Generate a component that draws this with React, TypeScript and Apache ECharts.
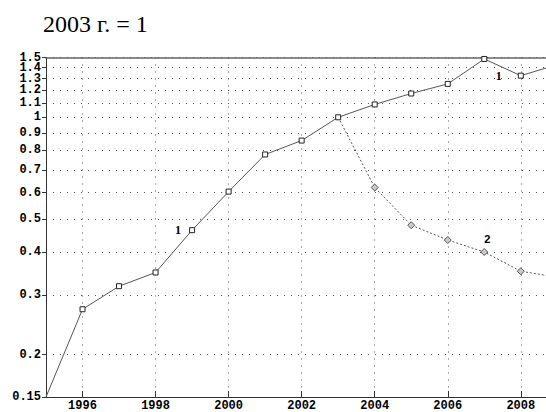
import React, { useEffect, useRef } from "react";
import * as echarts from "echarts";

const years = [1995, 1996, 1997, 1998, 1999, 2000, 2001, 2002, 2003, 2004, 2005, 2006, 2007, 2008, 2009];
const series1 = [0.15, 0.272, 0.318, 0.349, 0.465, 0.604, 0.777, 0.854, 1.0, 1.091, 1.175, 1.254, 1.485, 1.326, 1.43];
const series2Years = [2003, 2004, 2005, 2006, 2007, 2008, 2009];
const series2 = [1.0, 0.621, 0.481, 0.435, 0.401, 0.352, 0.338];
const yTicks = [0.15, 0.2, 0.3, 0.4, 0.5, 0.6, 0.7, 0.8, 0.9, 1, 1.1, 1.2, 1.3, 1.4, 1.5];
const yLabelsA = [0.15, 0.2, 0.3, 0.4, 0.5, 0.6, 0.7, 0.8, 0.9, 1, 1.2, 1.4];
const yLabelsB = [1.1, 1.3, 1.5];
const xTicks = [1996, 1998, 2000, 2002, 2004, 2006, 2008];
const titleText = "2003 г. = 1";

const labelFont = "Liberation Mono";

export default function App() {
  const ref = useRef<HTMLDivElement>(null);
  useEffect(() => {
    document.body.style.margin = "0";
    const chart = echarts.init(ref.current!, null, { renderer: "svg" });
    const lbl1 = (distance: number) => ({
      show: true,
      position: "left",
      distance,
      formatter: "1",
      fontFamily: "Liberation Serif",
      fontWeight: "bold",
      fontSize: 12,
      color: "#000",
    });
    const s1Data = years.map((y, i) => {
      const item: any = { value: [y, series1[i]] };
      if (i === 0) item.symbol = "none";
      if (y === 1999) item.label = lbl1(8);
      if (y === 2008) item.label = lbl1(16);
      return item;
    });
    const s2Data = series2Years.map((y, i) => {
      const item: any = { value: [y, series2[i]] };
      if (i === 0) item.symbol = "none";
      if (y === 2007)
        item.label = {
          show: true,
          position: "top",
          distance: 4,
          offset: [3, 0],
          formatter: "2",
          fontFamily: "Liberation Sans",
          fontWeight: "bold",
          fontSize: 11,
          color: "#000",
        };
      return item;
    });
    const dotted = { color: "#555", width: 1, type: [1, 6] as any };
    const yLabelStyle = {
      margin: 5,
      lineHeight: 9,
      showMaxLabel: true,
      showMinLabel: true,
      formatter: (v: number) => String(Number(v.toFixed(2))),
      fontFamily: labelFont,
      fontWeight: "bold",
      fontSize: 12,
      color: "#000",
    };
    chart.setOption({
      animation: false,
      backgroundColor: "#fff",
      title: {
        text: titleText,
        left: 38,
        top: 7,
        textStyle: { fontFamily: "Liberation Serif", fontSize: 24, fontWeight: "normal", color: "#000" },
      },
      grid: { left: 46, right: 0, top: 57.5, bottom: 10.5, containLabel: false },
      xAxis: [
        {
          type: "value",
          min: 1995,
          max: 2008.69,
          axisLine: { show: true, onZero: false, lineStyle: { color: "#333", width: 1 } },
          axisTick: { show: true, inside: true, length: 6, customValues: xTicks, lineStyle: { color: "#333" } },
          axisLabel: {
            customValues: xTicks,
            margin: 3,
            formatter: (v: number) => String(v),
            fontFamily: labelFont,
            fontWeight: "bold",
            fontSize: 12,
            color: "#000",
          },
          splitLine: { show: true, lineStyle: dotted },
        },
        {
          type: "value",
          position: "top",
          min: 1995,
          max: 2008.69,
          axisLine: { show: true, onZero: false, lineStyle: { color: "#666", width: 1.5 } },
          axisTick: { show: false },
          axisLabel: { show: false },
          splitLine: { show: false },
        },
      ],
      yAxis: [
        {
          type: "log",
          logBase: 10,
          min: 0.15,
          max: 1.5,
          axisLine: { show: true, onZero: false, lineStyle: { color: "#333", width: 1 } },
          axisTick: { show: true, length: 4, customValues: yTicks, lineStyle: { color: "#333" } },
          axisLabel: { ...yLabelStyle, customValues: yLabelsA },
          splitLine: { show: true, lineStyle: dotted },
        },
        {
          type: "log",
          logBase: 10,
          min: 0.15,
          max: 1.5,
          position: "left",
          offset: 0,
          axisLine: { show: false },
          axisTick: { show: false },
          axisLabel: { ...yLabelStyle, customValues: yLabelsB },
          splitLine: { show: false },
        },
      ],
      series: [
        {
          type: "line",
          data: s1Data,
          symbol: "rect",
          symbolSize: 5,
          lineStyle: { color: "#555", width: 1 },
          itemStyle: { color: "#fff", borderColor: "#222", borderWidth: 1 },
        },
        {
          type: "line",
          data: s2Data,
          symbol: "diamond",
          symbolSize: 7,
          lineStyle: { color: "#555", width: 1, type: [2, 2] },
          itemStyle: { color: "#ccc", borderColor: "#555", borderWidth: 1 },
        },
      ],
    });
    return () => chart.dispose();
  }, []);
  return <div ref={ref} style={{ position: "absolute", left: 0, top: 0, width: 546, height: 412 }} />;
}
